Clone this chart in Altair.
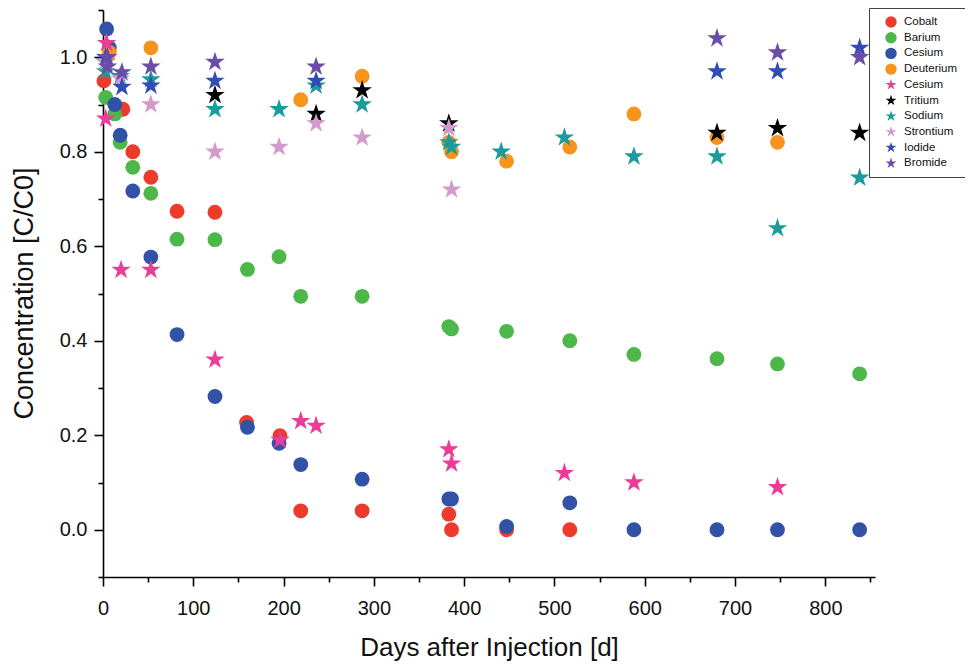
import altair as alt
import pandas as pd

# ---- data ----
series_order = ["Cobalt", "Barium", "Cesium", "Deuterium", "Cesium ",
                "Tritium", "Sodium", "Strontium", "Iodide", "Bromide"]
series_colors = ["#EC3A2B", "#4DB74A", "#3252A8", "#F7941E", "#EC3C97",
                 "#000000", "#1B9C9C", "#D49ACB", "#2F4DB3", "#6A4DA8"]

cobalt_days = [1, 22, 33, 53, 82, 124, 159, 196, 219, 287, 383, 386, 447, 517]
cobalt_vals = [0.95, 0.89, 0.80, 0.746, 0.674, 0.672, 0.227, 0.199, 0.04, 0.04, 0.033, 0.0, 0.0, 0.0]

barium_days = [3, 13, 19, 33, 53, 82, 124, 160, 195, 219, 287, 383, 386, 447, 517, 588, 680, 747, 838]
barium_vals = [0.915, 0.88, 0.82, 0.767, 0.712, 0.615, 0.614, 0.551, 0.578, 0.494, 0.494,
               0.43, 0.425, 0.42, 0.40, 0.371, 0.362, 0.351, 0.33]

cesium_days = [4, 7, 13, 19, 33, 53, 82, 124, 160, 195, 219, 287, 383, 386, 447, 517, 588, 680, 747, 838]
cesium_vals = [1.06, 1.02, 0.90, 0.835, 0.717, 0.577, 0.413, 0.282, 0.217, 0.183, 0.138, 0.107,
               0.065, 0.065, 0.007, 0.057, 0.0, 0.0, 0.0, 0.0]

deuterium_days = [7, 53, 219, 287, 383, 386, 447, 517, 588, 680, 747]
deuterium_vals = [1.01, 1.02, 0.91, 0.96, 0.82, 0.80, 0.78, 0.81, 0.88, 0.83, 0.82]

cesium_star_days = [4, 3, 20, 53, 124, 196, 219, 236, 383, 386, 511, 588, 747]
cesium_star_vals = [1.03, 0.87, 0.55, 0.55, 0.36, 0.19, 0.23, 0.22, 0.17, 0.14, 0.12, 0.10, 0.09]

tritium_days = [3, 124, 236, 287, 383, 680, 747, 838]
tritium_vals = [0.99, 0.92, 0.88, 0.93, 0.86, 0.84, 0.85, 0.84]

sodium_days = [3, 19, 53, 124, 195, 236, 287, 383, 386, 441, 511, 588, 680, 747, 838]
sodium_vals = [0.97, 0.96, 0.953, 0.89, 0.89, 0.94, 0.90, 0.82, 0.81, 0.80, 0.83, 0.79, 0.79, 0.638, 0.745]

strontium_days = [3, 19, 53, 124, 195, 236, 287, 383, 386]
strontium_vals = [0.99, 0.955, 0.90, 0.80, 0.81, 0.86, 0.83, 0.85, 0.72]

iodide_days = [3, 21, 53, 124, 236, 680, 747, 838]
iodide_vals = [1.0, 0.937, 0.94, 0.95, 0.95, 0.97, 0.97, 1.02]

bromide_days = [5, 5, 21, 53, 124, 236, 680, 747, 838]
bromide_vals = [1.0, 0.98, 0.968, 0.98, 0.99, 0.98, 1.04, 1.01, 1.0]

x_tick_values = [0, 50, 100, 150, 200, 250, 300, 350, 400, 450, 500, 550, 600, 650, 700, 750, 800, 850]
y_tick_values = [-0.1, 0.0, 0.1, 0.2, 0.3, 0.4, 0.5, 0.6, 0.7, 0.8, 0.9, 1.0, 1.1]

# ---- build tables ----
circle_series = [
    ("Cobalt", cobalt_days, cobalt_vals),
    ("Barium", barium_days, barium_vals),
    ("Cesium", cesium_days, cesium_vals),
    ("Deuterium", deuterium_days, deuterium_vals),
]
star_series = [
    ("Cesium ", cesium_star_days, cesium_star_vals),
    ("Tritium", tritium_days, tritium_vals),
    ("Sodium", sodium_days, sodium_vals),
    ("Strontium", strontium_days, strontium_vals),
    ("Iodide", iodide_days, iodide_vals),
    ("Bromide", bromide_days, bromide_vals),
]


def to_frame(groups):
    rows = []
    for name, days, vals in groups:
        for d, v in zip(days, vals):
            rows.append({"series": name, "day": d, "conc": v})
    return pd.DataFrame(rows)


circles_df = to_frame(circle_series)
stars_df = to_frame(star_series)

STAR = ("M0,-1L0.2245,-0.309L0.951,-0.309L0.363,0.118L0.588,0.809L0,0.382"
        "L-0.588,0.809L-0.363,0.118L-0.951,-0.309L-0.2245,-0.309Z")
shape_range = ["circle"] * 4 + [STAR] * 6

x_enc = alt.X(
    "day:Q",
    scale=alt.Scale(domain=[0, 855], nice=False, zero=False),
    axis=alt.Axis(
        title="Days after Injection [d]",
        values=x_tick_values,
        labelExpr="datum.value % 100 == 0 ? datum.label : ''",
        tickSize={"condition": {"test": "datum.value % 100 == 0", "value": 9}, "value": 5},
        labelFont="Liberation Sans, Arial",
        labelFontSize=20,
        labelColor="#111",
        labelPadding=12,
        labelFlush=False,
        labelOverlap=False,
        titleFont="Liberation Sans, Arial",
        titleFontSize=26,
        titleFontWeight="normal",
        titleColor="#111",
        titleX=386,
        titleY=70,
        titleBaseline="middle",
        titleAlign="center",
    ),
)
y_enc = alt.Y(
    "conc:Q",
    scale=alt.Scale(domain=[-0.1, 1.1], nice=False, zero=False),
    axis=alt.Axis(
        title="Concentration [C/C0]",
        values=y_tick_values,
        labelExpr="abs(round(datum.value * 10)) % 2 == 0 ? format(datum.value, '.1f') : ''",
        tickSize={"condition": {"test": "abs(round(datum.value * 10)) % 2 == 0", "value": 9}, "value": 5},
        labelFont="Liberation Sans, Arial",
        labelFontSize=20,
        labelColor="#111",
        labelPadding=7,
        labelFlush=False,
        labelOverlap=False,
        titleFont="Liberation Sans, Arial",
        titleFontSize=27,
        titleFontWeight="normal",
        titleColor="#111",
        titleX=-79,
        titleY=283,
        titleAngle=-90,
        titleBaseline="middle",
        titleAlign="center",
    ),
)
color_enc = alt.Color(
    "series:N",
    scale=alt.Scale(domain=series_order, range=series_colors),
    legend=alt.Legend(
        title=None,
        orient="none",
        legendX=766,
        legendY=-2,
        padding=8,
        symbolOffset=8,
        symbolSize=130,
        labelFont="Liberation Sans, Arial",
        labelFontSize=11.5,
        labelColor="#111",
        labelOffset=7,
        rowPadding=3.7,
        strokeColor="#444",
        fillColor="white",
        symbolStrokeWidth=0,
    ),
)
shape_enc = alt.Shape(
    "series:N",
    scale=alt.Scale(domain=series_order, range=shape_range),
    legend=alt.Legend(title=None),
)

circles = alt.Chart(circles_df).mark_point(filled=True, opacity=1, size=220, strokeWidth=0).encode(
    x=x_enc, y=y_enc, color=color_enc, shape=shape_enc
)
stars = alt.Chart(stars_df).mark_point(filled=True, opacity=1, size=420, strokeWidth=0).encode(
    x=x_enc, y=y_enc, color=color_enc, shape=shape_enc
)

chart = alt.layer(circles, stars).properties(
    width=772,
    height=567,
    autosize="none",
    padding={"left": 95, "top": 2, "right": 90, "bottom": 86},
    background="white",
).configure_view(stroke=None).configure_axis(
    grid=False,
    domainColor="#000",
    domainWidth=1.6,
    tickColor="#000",
    tickWidth=1.6,
)

chart.save("out.html", embed_options={"renderer": "svg", "actions": False})
